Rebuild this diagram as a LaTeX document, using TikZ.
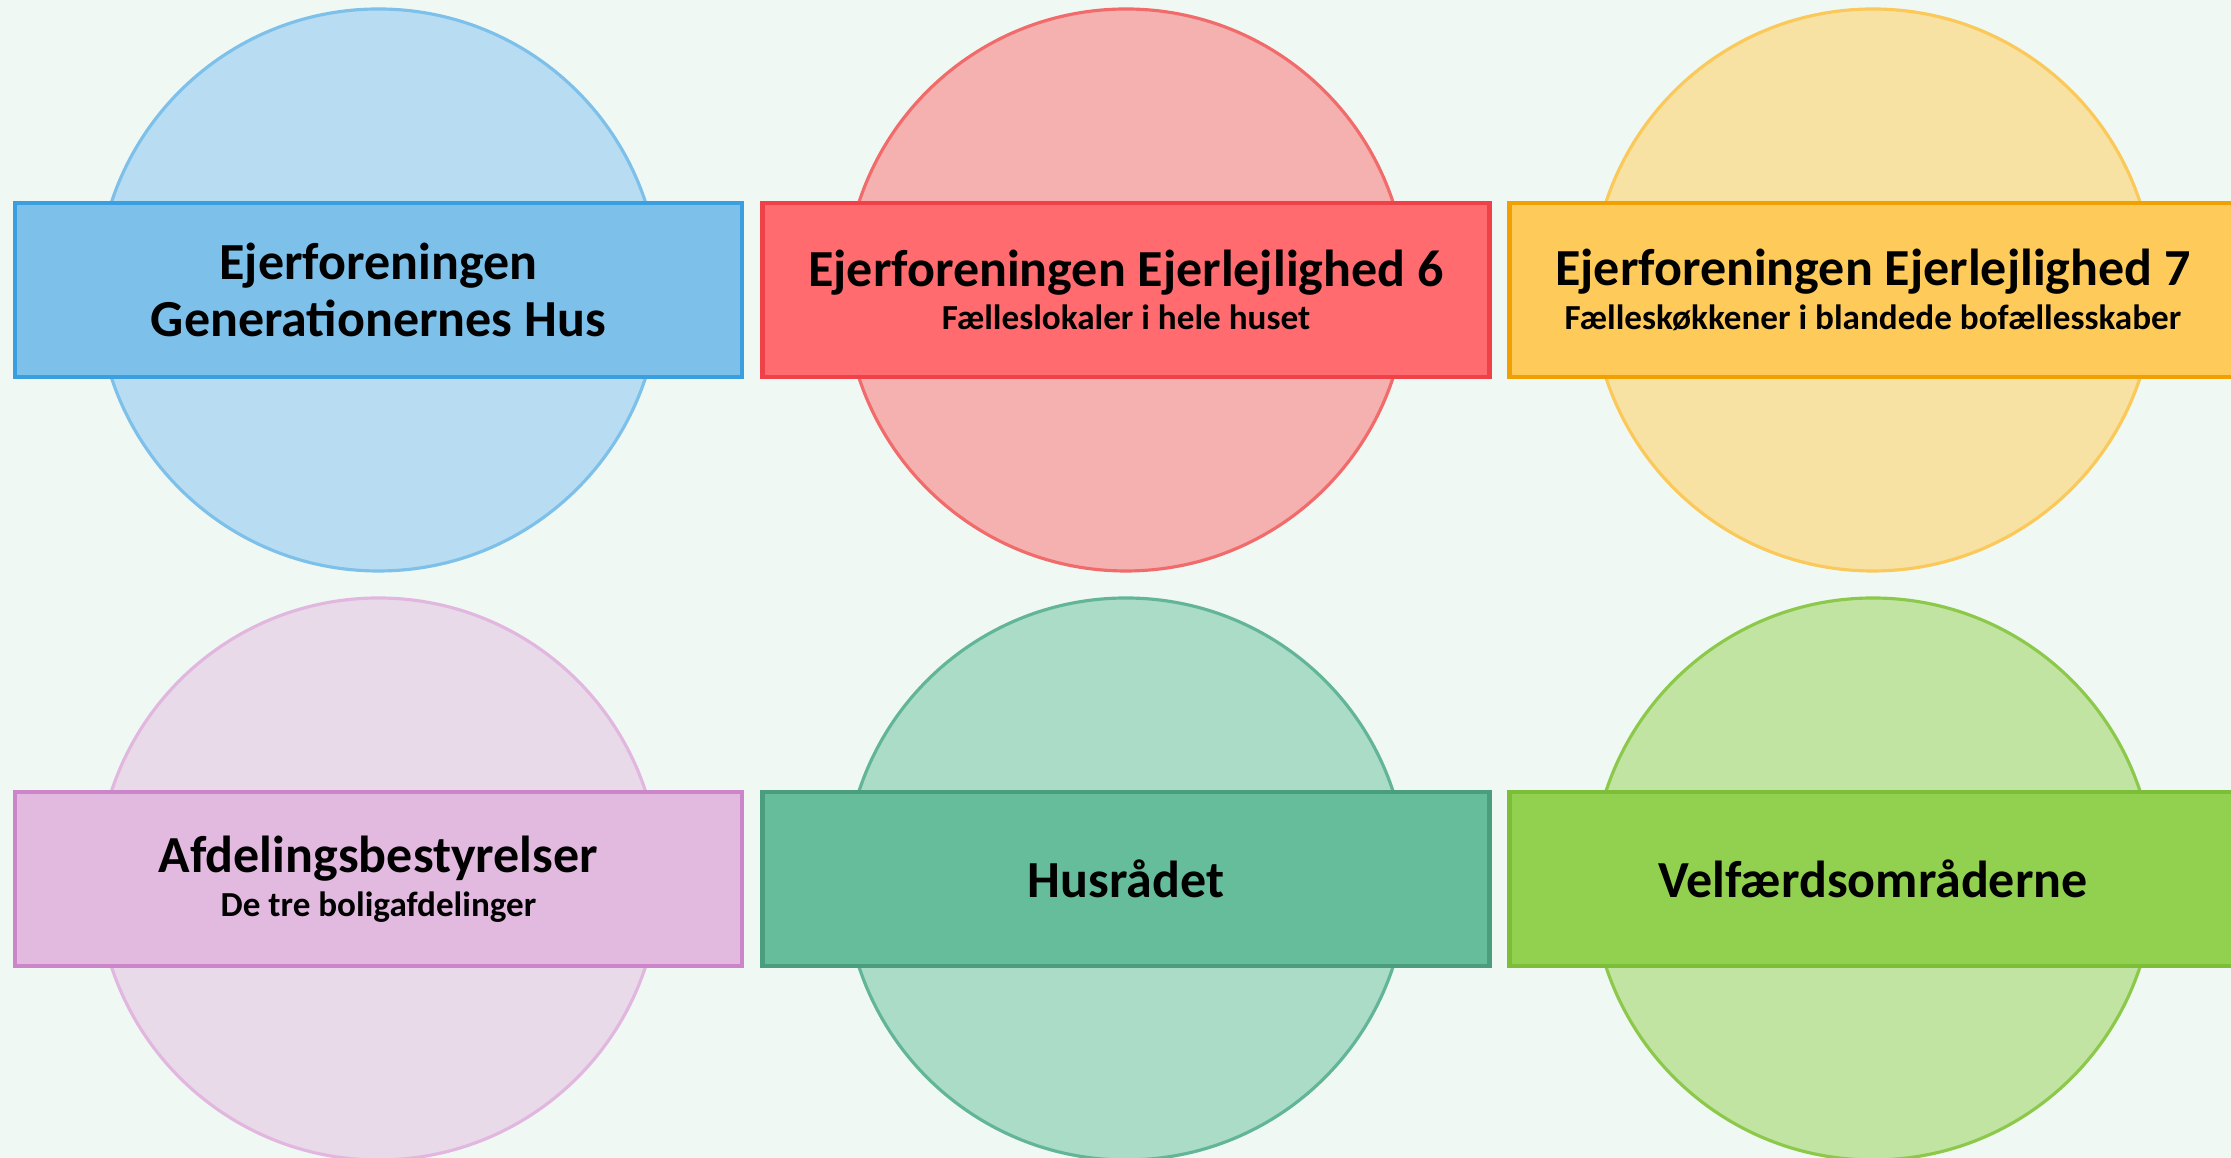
\documentclass[tikz,border=0pt]{standalone}
\usepackage{fontspec}
\setmainfont{Carlito}
\usetikzlibrary{positioning}

\definecolor{paper}{HTML}{F0F8F4}
\definecolor{blueFill}{HTML}{B8DDF2}
\definecolor{blueRing}{HTML}{7DC0EA}
\definecolor{blueBox}{HTML}{7DC1EB}
\definecolor{blueEdge}{HTML}{3A9FE0}
\definecolor{redFill}{HTML}{F5B0B0}
\definecolor{redRing}{HTML}{F26B6B}
\definecolor{redBox}{HTML}{FF6B6E}
\definecolor{redEdge}{HTML}{F04048}
\definecolor{yellowFill}{HTML}{F7E2A4}
\definecolor{yellowRing}{HTML}{FAC95A}
\definecolor{yellowBox}{HTML}{FECB5A}
\definecolor{yellowEdge}{HTML}{F0A000}
\definecolor{purpleFill}{HTML}{E9DAEA}
\definecolor{purpleRing}{HTML}{E2B7DF}
\definecolor{purpleBox}{HTML}{E2BAE0}
\definecolor{purpleEdge}{HTML}{CC85C8}
\definecolor{tealFill}{HTML}{ABDCC8}
\definecolor{tealRing}{HTML}{62B597}
\definecolor{tealBox}{HTML}{66BD9C}
\definecolor{tealEdge}{HTML}{4A9E7E}
\definecolor{greenFill}{HTML}{C2E4A2}
\definecolor{greenRing}{HTML}{8CC94B}
\definecolor{greenBox}{HTML}{92D050}
\definecolor{greenEdge}{HTML}{7DBE38}

\newcommand{\bigtitle}{\fontsize{14.8pt}{16.4pt}\selectfont\bfseries}
\newcommand{\smalltitle}{\fontsize{10pt}{12pt}\selectfont\bfseries}

\tikzstyle{disc} = [circle, minimum size=5.62cm, inner sep=0pt, line width=0.9pt]
\tikzstyle{plate} = [rectangle, minimum width=7.27cm, minimum height=1.74cm,
    inner sep=0pt, line width=1.2pt, align=center, text=black, font=\bigtitle]

\begin{document}
\begin{tikzpicture}
\fill[paper] (0,0) rectangle (22.31,11.58);
\useasboundingbox (0,0) rectangle (22.31,11.58);

% top row
\node [disc, draw=blueRing, fill=blueFill] (blueDisc) at (3.785,8.68) {};
\node [disc, draw=redRing, fill=redFill] (redDisc) at (11.26,8.68) {};
\node [disc, draw=yellowRing, fill=yellowFill] (yellowDisc) at (18.73,8.68) {};

\node [plate, draw=blueEdge, fill=blueBox] (blueBoxNode) at (blueDisc.center)
    {Ejerforeningen\\ Generationernes Hus};
\node [plate, draw=redEdge, fill=redBox] (redBoxNode) at (redDisc.center)
    {Ejerforeningen Ejerlejlighed 6\\[-4pt] \smalltitle Fælleslokaler i hele huset};
\node [plate, draw=yellowEdge, fill=yellowBox] (yellowBoxNode) at (yellowDisc.center)
    {Ejerforeningen Ejerlejlighed 7\\[-4pt] \smalltitle Fælleskøkkener i blandede bofællesskaber};

% bottom row
\node [disc, draw=purpleRing, fill=purpleFill] (purpleDisc) at (3.785,2.79) {};
\node [disc, draw=tealRing, fill=tealFill] (tealDisc) at (11.26,2.79) {};
\node [disc, draw=greenRing, fill=greenFill] (greenDisc) at (18.73,2.79) {};

\node [plate, draw=purpleEdge, fill=purpleBox] (purpleBoxNode) at (purpleDisc.center)
    {Afdelingsbestyrelser\\[-4pt] \smalltitle De tre boligafdelinger};
\node [plate, draw=tealEdge, fill=tealBox] (tealBoxNode) at (tealDisc.center)
    {Husrådet};
\node [plate, draw=greenEdge, fill=greenBox] (greenBoxNode) at (greenDisc.center)
    {Velfærdsområderne};
\end{tikzpicture}
\end{document}
